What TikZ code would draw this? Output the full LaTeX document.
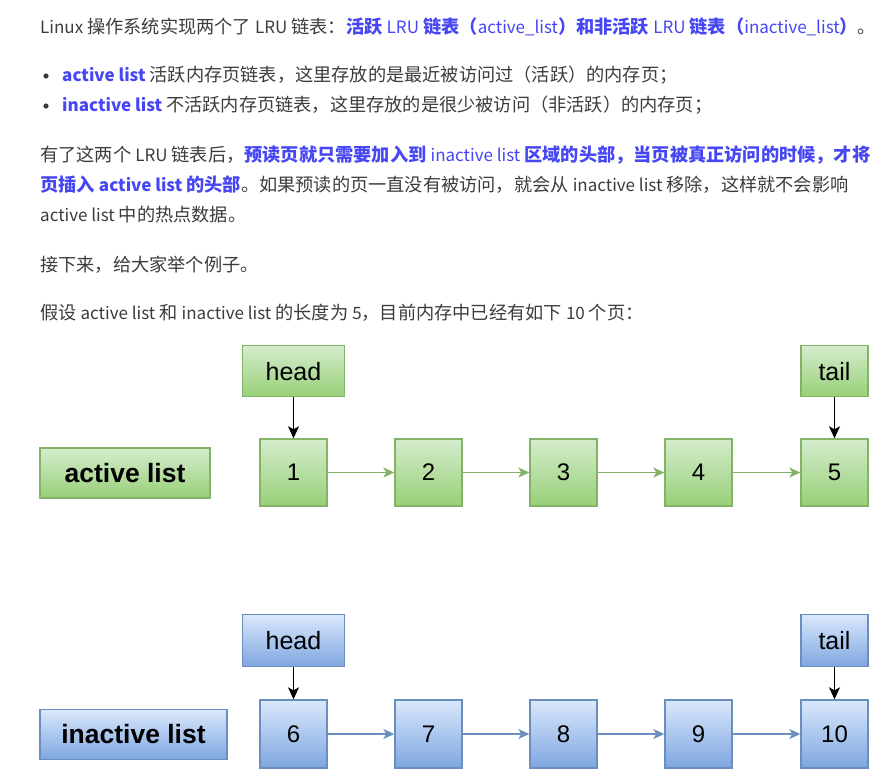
\documentclass[tikz,border=0pt]{standalone}
\usepackage{fontspec}
\setmainfont{Liberation Sans}
\newfontfamily\cjk{Noto Sans CJK SC}
\usetikzlibrary{positioning,arrows.meta}
\definecolor{textgray}{RGB}{60,60,60}
\definecolor{linkblue}{RGB}{70,70,245}
\definecolor{pagegreen}{RGB}{130,179,102}
\definecolor{greentop}{RGB}{213,236,205}
\definecolor{greenbot}{RGB}{151,208,119}
\definecolor{pageblue}{RGB}{108,142,191}
\definecolor{bluetop}{RGB}{218,232,252}
\definecolor{bluebot}{RGB}{126,166,224}
\newcommand{\hl}[1]{\textcolor{linkblue}{\bfseries #1}}
\newcommand{\en}[1]{{\fontsize{17}{20}\selectfont #1}}
\newcommand{\enr}[1]{{\mdseries\fontsize{17}{20}\selectfont #1}}

\begin{document}
\begin{tikzpicture}[x=1pt, y=-1pt,
  para/.style={anchor=base west, inner sep=0pt, text=textgray,
               font=\cjk\fontsize{18.2}{22}\selectfont},
  greenbox/.style={draw=pagegreen, line width=1.4pt, top color=greentop,
                   bottom color=greenbot, inner sep=0pt},
  bluebox/.style={draw=pageblue, line width=1.4pt, top color=bluetop,
                  bottom color=bluebot, inner sep=0pt},
  page/.style={minimum width=67pt, minimum height=67pt, font=\fontsize{24}{27}\selectfont},
  ptr/.style={minimum height=51pt, font=\fontsize{25}{28}\selectfont},
  listname/.style={minimum height=50pt, font=\bfseries\fontsize{26.5}{30}\selectfont},
  link/.style={-{Stealth[length=11pt, width=10pt, inset=3pt]}, line width=1.4pt},
  pointer/.style={-{Stealth[length=12pt, width=11pt, inset=3pt]}, black, line width=1.4pt}
]
\fill[white] (0,0) rectangle (896,782);
\useasboundingbox (0,0) rectangle (896,782);

% text above the diagram
\node[para] (t1) at (40,33) {\en{Linux} 操作系统实现两个了 \en{LRU} 链表：\hl{活跃 \enr{LRU} 链表（\enr{active\_list}）和非活跃 \enr{LRU} 链表（\enr{inactive\_list}）}。};
\fill[textgray] (46,76) circle (2.6pt);
\node[para] (b1) at (62,81) {\hl{\en{active list}} 活跃内存页链表，这里存放的是最近被访问过（活跃）的内存页；};
\fill[textgray] (46,106) circle (2.6pt);
\node[para] (b2) at (62,111) {\hl{\en{inactive list}} 不活跃内存页链表，这里存放的是很少被访问（非活跃）的内存页；};
\node[para] (p1a) at (40,161) {有了这两个 \en{LRU} 链表后，\hl{预读页就只需要加入到 \enr{inactive list} 区域的头部，当页被真正访问的时候，才将}};
\node[para] (p1b) at (40,191) {\hl{页插入 \en{active list} 的头部}。如果预读的页一直没有被访问，就会从 \en{inactive list} 移除，这样就不会影响};
\node[para] (p1c) at (40,221) {\en{active list} 中的热点数据。};
\node[para] (p2) at (40,271) {接下来，给大家举个例子。};
\node[para] (p3) at (40,319) {假设 \en{active list} 和 \en{inactive list} 的长度为 \en{5}，目前内存中已经有如下 \en{10} 个页：};

% active list
\node[greenbox, listname, minimum width=170pt] (actname) at (125,473) {active list};
\foreach \i/\x in {1/293.5, 2/428.5, 3/563.5, 4/698.5, 5/834.5}
  \node[greenbox, page] (pg\i) at (\x,472.5) {\i};
\foreach \a/\b in {1/2, 2/3, 3/4, 4/5}
  \draw[link, pagegreen] (pg\a) -- (pg\b);
\node[greenbox, ptr, minimum width=102pt, above=41pt of pg1] (acthead) {head};
\node[greenbox, ptr, minimum width=67pt, above=41pt of pg5] (acttail) {tail};
\draw[pointer] (acthead) -- (pg1);
\draw[pointer] (acttail) -- (pg5);

% inactive list
\node[bluebox, listname, minimum width=187pt] (inaname) at (133.5,734.5) {inactive list};
\foreach \i/\x in {6/293.5, 7/428.5, 8/563.5, 9/698.5, 10/834.5}
  \node[bluebox, page, minimum height=68pt] (pg\i) at (\x,734) {\i};
\foreach \a/\b in {6/7, 7/8, 8/9, 9/10}
  \draw[link, pageblue] (pg\a) -- (pg\b);
\node[bluebox, ptr, minimum width=102pt, minimum height=52pt, above=32pt of pg6] (inahead) {head};
\node[bluebox, ptr, minimum width=67pt, minimum height=52pt, above=32pt of pg10] (inatail) {tail};
\draw[pointer] (inahead) -- (pg6);
\draw[pointer] (inatail) -- (pg10);
\end{tikzpicture}
\end{document}
